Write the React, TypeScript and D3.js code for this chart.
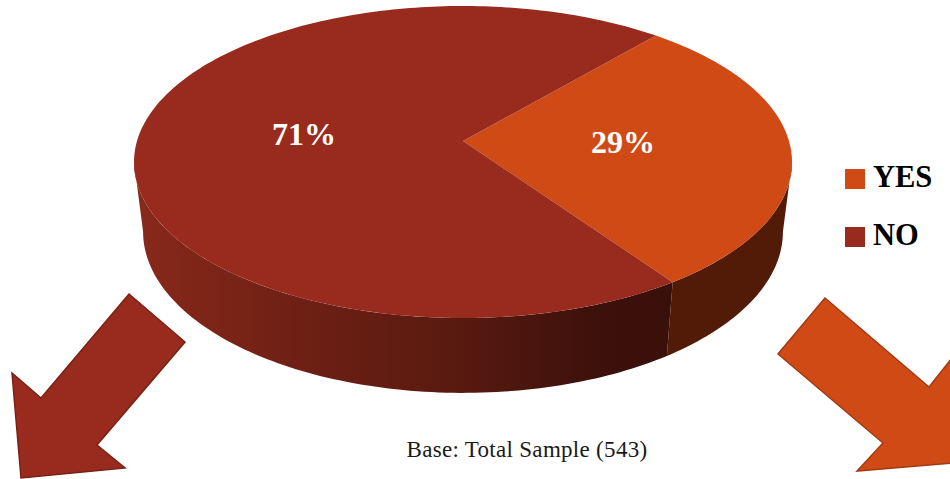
import React from 'react';
import * as d3 from 'd3';

const categories = ['YES', 'NO'];
const shares = [29, 71];
const baseNote = 'Base: Total Sample (543)';

const colors = ['#d04a16', '#982b1e'];
const startDeg = 40.7;
const persp = -0.1346; // how much the near edge of the disc grows

// rings of the tilted pie: r is the radius, a/b give the vertical mapping
const topRing = { r: 326, a: 134.2, b: 141 };
const lowRing = { r: 317, a: 130, b: 210 };
const cx = 463;
const labelRadius = 0.49;

const width = 950;
const height = 479;

// decorative block arrows
const leftArrow = [[129, 294], [185, 342], [97, 445], [125, 468], [21, 478], [12, 373], [41, 398]];
const rightArrow = [[825, 298], [778, 354], [883, 443], [857, 471], [952, 463], [952, 358], [929, 387]];

type Ring = { r: number; a: number; b: number };

const project = (ring: Ring, angle: number, k = 1): [number, number] => {
  const u = k * Math.sin(angle);
  const v = -k * Math.cos(angle);
  const w = 1 + persp * v;
  return [cx + (ring.r * u) / w, (ring.a * v + ring.b) / w];
};

const line = d3.line();

const arcPoints = (ring: Ring, a0: number, a1: number) => {
  const n = Math.max(2, Math.ceil(Math.abs(a1 - a0) / 0.02));
  return d3.range(n + 1).map((i) => project(ring, a0 + ((a1 - a0) * i) / n));
};

// side wall between two angles, from the top rim to the lower rim
const wallPath = (a0: number, a1: number) =>
  line([...arcPoints(topRing, a0, a1), ...arcPoints(lowRing, a1, a0)]) + 'Z';

const rad = (d: number) => (d * Math.PI) / 180;

export default function App() {
  const pie = d3
    .pie<number>()
    .sort(null)
    .startAngle(rad(startDeg))
    .endAngle(rad(startDeg + 360));
  const arcs = pie(shares);

  // disc silhouette ends where the wall stops being visible
  const rightEdge = Math.acos(persp);
  const leftEdge = 2 * Math.PI - rightEdge;
  const boundary = arcs[0].endAngle;

  return (
    <svg
      width={width}
      height={height}
      style={{ position: 'absolute', left: 0, top: 0, display: 'block' }}
      fontFamily="'Liberation Serif', serif"
    >
      <defs>
        <linearGradient id="noWall" gradientUnits="userSpaceOnUse" x1={134} x2={669} y1={0} y2={0}>
          <stop offset="0" stopColor="#88291b" />
          <stop offset="0.3" stopColor="#6f2014" />
          <stop offset="0.6" stopColor="#591a10" />
          <stop offset="0.85" stopColor="#3e110b" />
          <stop offset="1" stopColor="#3a100a" />
        </linearGradient>
      </defs>

      <path d={wallPath(rightEdge, boundary)} fill="#521b07" />
      <path d={wallPath(boundary, leftEdge)} fill="url(#noWall)" />

      {arcs.map((d, i) => (
        <path
          key={categories[i]}
          d={line([[cx, topRing.b], ...arcPoints(topRing, d.startAngle, d.endAngle)]) + 'Z'}
          fill={colors[i]}
        />
      ))}

      {arcs.map((d, i) => {
        const [x, y] = project(topRing, (d.startAngle + d.endAngle) / 2, labelRadius);
        return (
          <text
            key={categories[i]}
            x={x}
            y={y}
            dy="0.25em"
            textAnchor="middle"
            fontSize={32}
            fontWeight="bold"
            fill="#ffffff"
          >
            {shares[i]}%
          </text>
        );
      })}

      {categories.map((c, i) => (
        <g key={c} transform={`translate(845,${169 + i * 58})`}>
          <rect width={20} height={20} fill={colors[i]} />
          <text x={28} y={18} fontSize={30.5} fontWeight="bold" fill="#000000">
            {c}
          </text>
        </g>
      ))}

      <path d={line(leftArrow as [number, number][]) + 'Z'} fill={colors[1]} stroke="#7a2115" strokeWidth={1.5} />
      <path d={line(rightArrow as [number, number][]) + 'Z'} fill={colors[0]} stroke="#a23a12" strokeWidth={1.5} />

      <text x={527} y={457} textAnchor="middle" fontSize={23} letterSpacing={0.3} fill="#1a1a1a">
        {baseNote}
      </text>
    </svg>
  );
}
